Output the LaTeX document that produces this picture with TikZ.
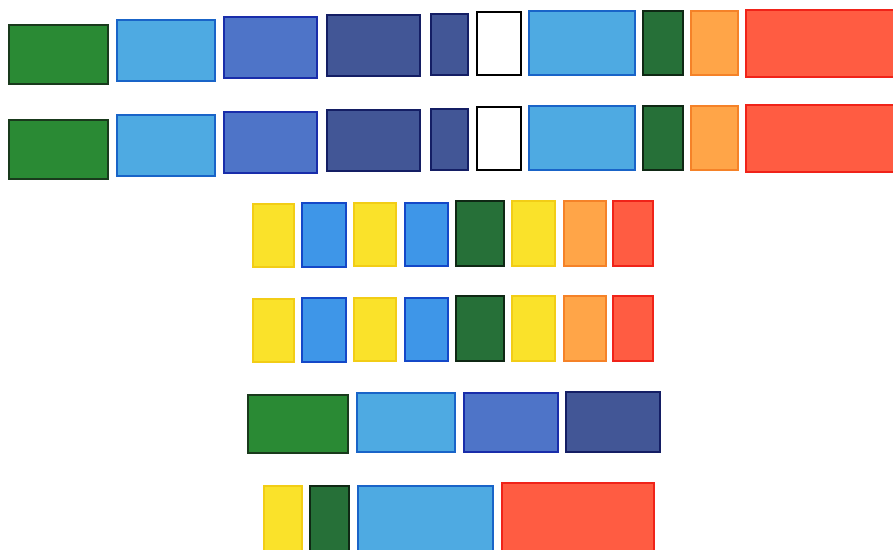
\documentclass[tikz,border=0pt]{standalone}

\definecolor{grassFill}{RGB}{42,138,52}
\definecolor{grassEdge}{RGB}{25,58,28}
\definecolor{skyFill}{RGB}{78,170,226}
\definecolor{skyEdge}{RGB}{25,100,200}
\definecolor{midFill}{RGB}{78,116,200}
\definecolor{midEdge}{RGB}{25,45,170}
\definecolor{navyFill}{RGB}{66,86,150}
\definecolor{navyEdge}{RGB}{20,30,100}
\definecolor{pineFill}{RGB}{38,112,56}
\definecolor{pineEdge}{RGB}{15,40,20}
\definecolor{brightFill}{RGB}{62,150,232}
\definecolor{brightEdge}{RGB}{20,72,200}
\definecolor{orangeFill}{RGB}{255,165,72}
\definecolor{orangeEdge}{RGB}{245,130,40}
\definecolor{redFill}{RGB}{255,92,66}
\definecolor{redEdge}{RGB}{240,35,25}
\definecolor{yellowFill}{RGB}{250,226,42}
\definecolor{yellowEdge}{RGB}{242,205,22}

\begin{document}
\begin{tikzpicture}[x=0.02cm,y=-0.02cm,
  tile/.style={line width=1.2pt},
  grassTile/.style={tile,fill=grassFill,draw=grassEdge},
  skyTile/.style={tile,fill=skyFill,draw=skyEdge},
  midTile/.style={tile,fill=midFill,draw=midEdge},
  navyTile/.style={tile,fill=navyFill,draw=navyEdge},
  paperTile/.style={tile,fill=white,draw=black},
  pineTile/.style={tile,fill=pineFill,draw=pineEdge},
  brightTile/.style={tile,fill=brightFill,draw=brightEdge},
  orangeTile/.style={tile,fill=orangeFill,draw=orangeEdge},
  redTile/.style={tile,fill=redFill,draw=redEdge},
  yellowTile/.style={tile,fill=yellowFill,draw=yellowEdge}]

  \useasboundingbox (0,0) rectangle (893,549);

  \def\rowgap{95} % distance between the twin rows

  % Long rows, drawn twice
  \foreach \dy in {0,\rowgap}{
    \begin{scope}[shift={(0,\dy)}]
      \foreach \xa/\ya/\xb/\yb/\st in {
          8/24/109/85/grassTile,
          116/19/216/82/skyTile,
          223/16/318/79/midTile,
          326/14/421/77/navyTile,
          430/13/469/76/navyTile,
          476/11/522/76/paperTile,
          528/10/636/76/skyTile,
          642/10/684/76/pineTile,
          690/10/739/76/orangeTile,
          745/9/905/78/redTile}{
        \draw[\st] (\xa+1,\ya+1) rectangle (\xb-1,\yb-1);
      }
    \end{scope}
  }

  % Narrow tiles, drawn twice
  \foreach \dy in {0,\rowgap}{
    \begin{scope}[shift={(0,\dy)}]
      \foreach \xa/\ya/\xb/\yb/\st in {
          252/203/295/268/yellowTile,
          301/202/347/268/brightTile,
          353/202/397/267/yellowTile,
          404/202/449/267/brightTile,
          455/200/505/267/pineTile,
          511/200/556/267/yellowTile,
          563/200/607/267/orangeTile,
          612/200/654/267/redTile}{
        \draw[\st] (\xa+1,\ya+1) rectangle (\xb-1,\yb-1);
      }
    \end{scope}
  }

  % Short row of four
  \foreach \xa/\ya/\xb/\yb/\st in {
      247/394/349/454/grassTile,
      356/392/456/453/skyTile,
      463/392/559/453/midTile,
      565/391/661/453/navyTile}{
    \draw[\st] (\xa+1,\ya+1) rectangle (\xb-1,\yb-1);
  }

  % Bottom row (cut by the edge)
  \foreach \xa/\ya/\xb/\yb/\st in {
      263/485/303/560/yellowTile,
      309/485/350/560/pineTile,
      357/485/494/560/skyTile,
      501/482/655/560/redTile}{
    \draw[\st] (\xa+1,\ya+1) rectangle (\xb-1,\yb-1);
  }

\end{tikzpicture}
\end{document}
